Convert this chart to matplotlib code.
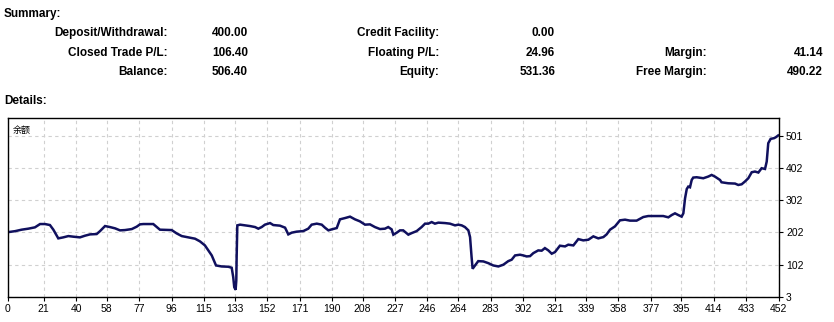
import numpy as np
import matplotlib.pyplot as plt

# Summary table
summary_rows = [
    ["Deposit/Withdrawal:", "400.00", "Credit Facility:", "0.00", "", ""],
    ["Closed Trade P/L:", "106.40", "Floating P/L:", "24.96", "Margin:", "41.14"],
    ["Balance:", "506.40", "Equity:", "531.36", "Free Margin:", "490.22"],
]

# Balance curve (trade index, balance)
trade_idx = [0, 4.1, 8.0, 11.9, 15.8, 18.8, 21.7, 24.6, 26.6, 29.5, 32.4, 35.4, 38.3, 42.2, 45.2,
             48.1, 52.0, 54.0, 56.9, 59.8, 62.8, 65.7, 68.6, 72.6, 75.5, 77.4,
             79.4, 85.2, 89.1, 96.0, 98.9, 101.9, 105.7, 109.7, 112.6, 115.5, 117.5, 119.5,
             122.0, 125.3, 129.2, 131.2, 132.1, 132.7, 133.5, 133.9, 134.1, 134.5, 136.1,
             139.0, 141.9, 144.9, 146.8, 148.8, 150.7, 153.7,
             155.6, 159.5, 162.5, 164.4, 166.4, 169.3, 173.2, 176.1, 178.1, 181.1, 184.0,
             185.9, 187.9, 189.9, 192.8, 194.7, 197.7, 200.6, 203.5, 206.4, 209.4, 212.3,
             215.2, 218.2, 221.1, 223.0, 225.0, 226.0, 228.0, 229.9,
             231.8, 234.8, 236.8, 239.7, 242.6, 244.6, 246.5, 248.5, 250.4, 252.4, 256.3,
             259.2, 262.2, 264.1, 266.1, 268.0, 270.0, 271.0, 271.9, 272.5, 273.9, 275.8,
             278.8, 281.7, 284.6, 287.6, 290.5, 293.4, 295.4, 297.4, 300.3, 302.2, 304.2, 306.2,
             308.1, 311.0, 313.0, 314.9, 316.9, 318.9, 320.8, 323.7, 326.7, 328.6, 331.6,
             334.5, 337.4, 340.4, 343.3, 346.2, 349.2, 351.1, 353.1, 356.0, 358.9, 361.9,
             364.8, 368.7, 372.6, 375.5,
             384.3, 387.3, 389.3, 391.2, 393.1, 395.1, 396.1, 397.1, 398.1, 399.0, 400.0,
             401.0, 401.9, 403.9, 407.8, 410.7, 412.7, 414.6, 417.6, 418.5, 422.4, 426.4,
             428.3, 430.3, 432.2, 434.2, 436.2, 438.1, 440.1, 442.0, 444.0, 445.0, 445.9,
             447.3, 449.3, 450.4, 451.7]
balance = [203, 206, 210.6, 213.7, 217.8, 228, 228, 224.9, 210.6, 183.8, 186.9, 190.9, 189, 186.9, 192.1,
           196.1, 197.1, 206.3, 221.8, 218.7, 214.7, 208.5, 209.4, 212.5, 219.9, 227,
           228, 228, 210.6, 209.4, 199.2, 190.9, 186.9, 182.8, 174.5, 162.1, 146.7, 131.2,
           100.3, 97.2, 96.3, 93.2, 64.1, 33.3, 25.2, 54, 126, 223.9, 226.1,
           223.9, 221.8, 218.7, 213.7, 218.7, 226.1, 231,
           224.9, 223, 216.8, 196.1, 201.4, 204.5, 206.3, 213.7, 226.1, 229.2, 226.1,
           216.8, 208.5, 211.6, 215.6, 242.5, 246.5, 250.8, 242.5, 236.3, 226.1, 227,
           218.7, 212.5, 213.7, 218.7, 211.6, 195.2, 201.4, 208.5,
           208.5, 195.2, 200.1, 206.3, 218.7, 229.2, 229.2, 234.1, 229.2, 232.3, 231,
           229.2, 223.9, 226.1, 223.9, 218.7, 208.5, 187.8, 126, 90.1, 100.3, 113.6,
           112.7, 107.4, 100.3, 97.2, 102.5, 113.6, 118, 131.2, 133.4, 131.2, 128.1, 129.1,
           138.3, 146.7, 145.8, 153.8, 146.7, 136.5, 141.4, 161.2, 159, 164.3, 162.1,
           181.6, 177.6, 179.7, 190, 183.8, 187.8, 196.1, 210.6, 220.8, 239.4, 241.5,
           238.5, 238.5, 249.6, 252.7,
           252.7, 248.7, 255.8, 261, 255.8, 250.8, 261, 307.4, 336.1, 343.5, 341.4,
           363.9, 371.3, 372.3, 369.2, 374.4, 379.4, 374.4, 363.9, 356.8, 353.7, 352.8,
           348.5, 350.6, 359, 369.2, 387.7, 389.9, 386.8, 400.1, 397.9, 420.8, 477.3,
           490.6, 492.8, 495.9, 501.1]

x_ticks = [0, 21, 40, 58, 77, 96, 115, 133, 152, 171, 190, 208, 227, 246, 264, 283,
           302, 321, 339, 358, 377, 395, 414, 433, 452]
y_ticks = [3, 102, 202, 302, 402, 501]

W, H = 834, 322
fig = plt.figure(figsize=(W / 100, H / 100), dpi=100)
fig.patch.set_facecolor('white')

font = 'Liberation Sans'
txt = dict(fontsize=8.5, fontweight='bold', family=font, color='black', va='center')

def put(x, y, s, **kw):
    fig.text(x / W, 1 - y / H, s, **{**txt, **kw})

put(4, 14, "Summary:", ha='left')
put(4, 101, "Details:", ha='left')

col_right = [168, 248, 439, 555, 707, 823]
row_y = [33, 53, 72]
for r, row in enumerate(summary_rows):
    for c, s in enumerate(row):
        if s:
            put(col_right[c], row_y[r], s, ha='right')

# Chart area
ax = fig.add_axes([8 / W, 1 - 297 / H, (779 - 8) / W, (297 - 118) / H])
ax.plot(trade_idx, balance, color='#10105e', lw=1.8, solid_joinstyle='miter')
ax.set_xlim(0, 452.2)
ax.set_ylim(3, 555)
ax.set_xticks(x_ticks)
ax.set_xticklabels([str(t) for t in x_ticks])
ax.set_yticks(y_ticks)
ax.set_yticklabels([str(t) for t in y_ticks])
ax.yaxis.tick_right()
ax.grid(True, color='#d0d0d0', ls=(0, (3, 3)), lw=0.8)
ax.tick_params(axis='both', length=3, width=0.8, labelsize=7.5, colors='black', pad=2)
for lab in ax.get_xticklabels() + ax.get_yticklabels():
    lab.set_family(font)
for sp in ax.spines.values():
    sp.set_color('black')
    sp.set_linewidth(1.0)

ax.text(0.006, 0.955, "余额", transform=ax.transAxes, fontsize=6.5,
        family=['Noto Sans CJK SC', 'DejaVu Sans'], va='top', ha='left')

fig.savefig('out.png', dpi=100)
